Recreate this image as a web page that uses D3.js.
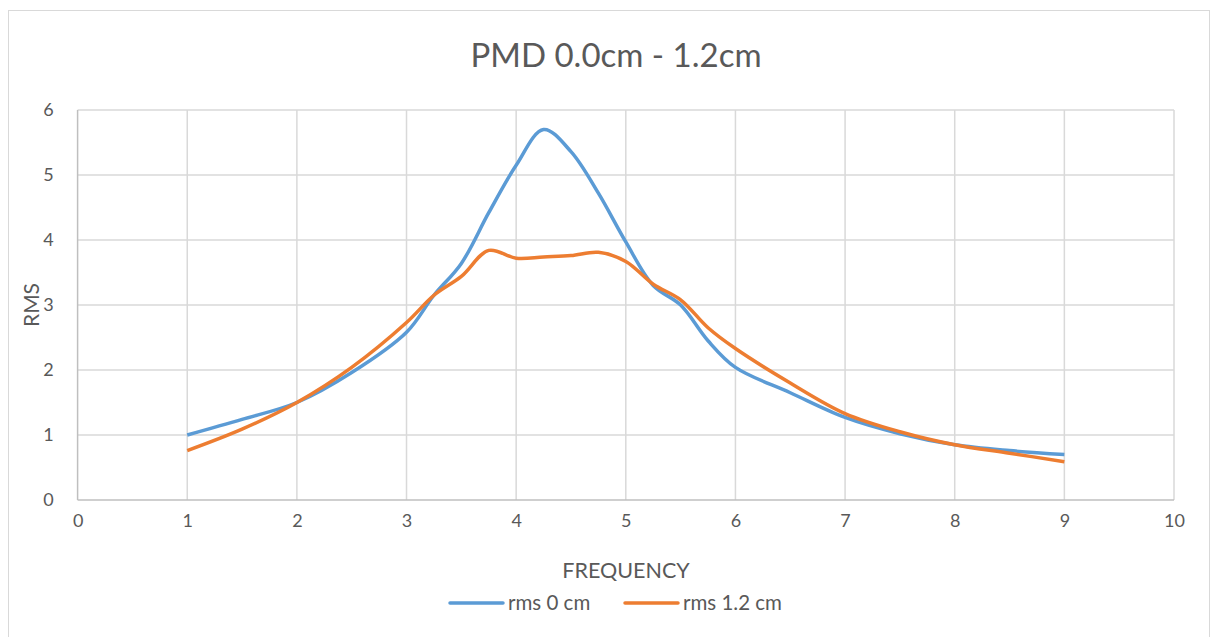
<!DOCTYPE html>
<html>
<head>
<meta charset="utf-8">
<script src="https://cdn.jsdelivr.net/npm/d3@7"></script>
<style>
  html, body { margin: 0; padding: 0; background: #fff; }
  svg text { font-family: Lato, "Open Sans", sans-serif; fill: #595959; }
</style>
</head>
<body>
<svg id="chart" width="1218" height="637"></svg>
<script>
// Frequency samples (x) shared by both series
const frequency = [1, 1.5, 2, 2.5, 3, 3.25, 3.5, 3.75, 4, 4.25, 4.5, 4.75, 5, 5.25, 5.5, 5.75, 6, 6.5, 7, 7.5, 8, 8.5, 9];
// RMS at 0 cm
const rms0 = [1.00, 1.24, 1.50, 1.96, 2.58, 3.15, 3.64, 4.42, 5.15, 5.70, 5.36, 4.72, 3.97, 3.30, 3.00, 2.45, 2.04, 1.65, 1.27, 1.02, 0.85, 0.76, 0.70];
// RMS at 1.2 cm
const rms12 = [0.76, 1.09, 1.50, 2.04, 2.73, 3.15, 3.44, 3.84, 3.72, 3.74, 3.76, 3.81, 3.67, 3.32, 3.08, 2.65, 2.33, 1.80, 1.33, 1.05, 0.85, 0.72, 0.59];

const xTicks = [0, 1, 2, 3, 4, 5, 6, 7, 8, 9, 10];
const yTicks = [0, 1, 2, 3, 4, 5, 6];
const seriesNames = ["rms 0 cm", "rms 1.2 cm"];
const seriesColors = ["#5B9BD5", "#ED7D31"];

const svg = d3.select("#chart");

// outer chart frame
svg.append("rect")
  .attr("x", 8.5).attr("y", 10.5)
  .attr("width", 1201).attr("height", 640)
  .attr("fill", "none").attr("stroke", "#D9D9D9").attr("stroke-width", 1);

const x = d3.scaleLinear().domain([0, 10]).range([77.6, 1174]);
const y = d3.scaleLinear().domain([0, 6]).range([500, 110]);

// gridlines
svg.append("g")
  .selectAll("line")
  .data(xTicks.slice(1))
  .join("line")
  .attr("x1", d => x(d)).attr("x2", d => x(d))
  .attr("y1", y(0)).attr("y2", y(6))
  .attr("stroke", "#D9D9D9").attr("stroke-width", 1.5);

svg.append("g")
  .selectAll("line")
  .data(yTicks.slice(1))
  .join("line")
  .attr("x1", x(0)).attr("x2", x(10))
  .attr("y1", d => y(d)).attr("y2", d => y(d))
  .attr("stroke", "#D9D9D9").attr("stroke-width", 1.5);

// axis lines
svg.append("line")
  .attr("x1", x(0)).attr("x2", x(10))
  .attr("y1", y(0)).attr("y2", y(0))
  .attr("stroke", "#BFBFBF").attr("stroke-width", 1.5);
svg.append("line")
  .attr("x1", x(0)).attr("x2", x(0))
  .attr("y1", y(0)).attr("y2", y(6))
  .attr("stroke", "#BFBFBF").attr("stroke-width", 1.5);

// tick labels via d3 axes
const xAxis = svg.append("g")
  .attr("transform", `translate(0,${y(0)})`)
  .call(d3.axisBottom(x).tickValues(xTicks).tickSize(0).tickPadding(14).tickFormat(d3.format("d")));
xAxis.select(".domain").remove();
xAxis.selectAll("text").style("font-size", "18px").attr("fill", "#595959");

const yAxis = svg.append("g")
  .attr("transform", `translate(${x(0)},0)`)
  .call(d3.axisLeft(y).tickValues(yTicks).tickSize(0).tickPadding(24).tickFormat(d3.format("d")));
yAxis.select(".domain").remove();
yAxis.selectAll("text").style("font-size", "18px").attr("fill", "#595959");

// series lines
const line = d3.line()
  .x(d => x(d[0]))
  .y(d => y(d[1]))
  .curve(d3.curveCatmullRom.alpha(0.5));

[rms0, rms12].forEach((vals, i) => {
  svg.append("path")
    .datum(frequency.map((f, j) => [f, vals[j]]))
    .attr("d", line)
    .attr("fill", "none")
    .attr("stroke", seriesColors[i])
    .attr("stroke-width", 3.5)
    .attr("stroke-linejoin", "round");
});

// title
svg.append("text")
  .attr("x", 616).attr("y", 67)
  .attr("text-anchor", "middle")
  .style("font-size", "33px").style("font-weight", 400)
  .text("PMD 0.0cm - 1.2cm");

// axis titles
svg.append("text")
  .attr("x", 626).attr("y", 578)
  .attr("text-anchor", "middle")
  .style("font-size", "21.5px")
  .text("FREQUENCY");

svg.append("text")
  .attr("transform", `translate(39,${y(3)}) rotate(-90)`)
  .attr("text-anchor", "middle")
  .style("font-size", "21px")
  .text("RMS");

// legend
const legendItems = [
  { x0: 450, name: seriesNames[0], color: seriesColors[0] },
  { x0: 625, name: seriesNames[1], color: seriesColors[1] }
];
const lg = svg.append("g");
legendItems.forEach(it => {
  lg.append("line")
    .attr("x1", it.x0).attr("x2", it.x0 + 53)
    .attr("y1", 603).attr("y2", 603)
    .attr("stroke", it.color).attr("stroke-width", 3.5)
    .attr("stroke-linecap", "round");
  lg.append("text")
    .attr("x", it.x0 + 58).attr("y", 610)
    .style("font-size", "20.5px")
    .text(it.name);
});
</script>
</body>
</html>
